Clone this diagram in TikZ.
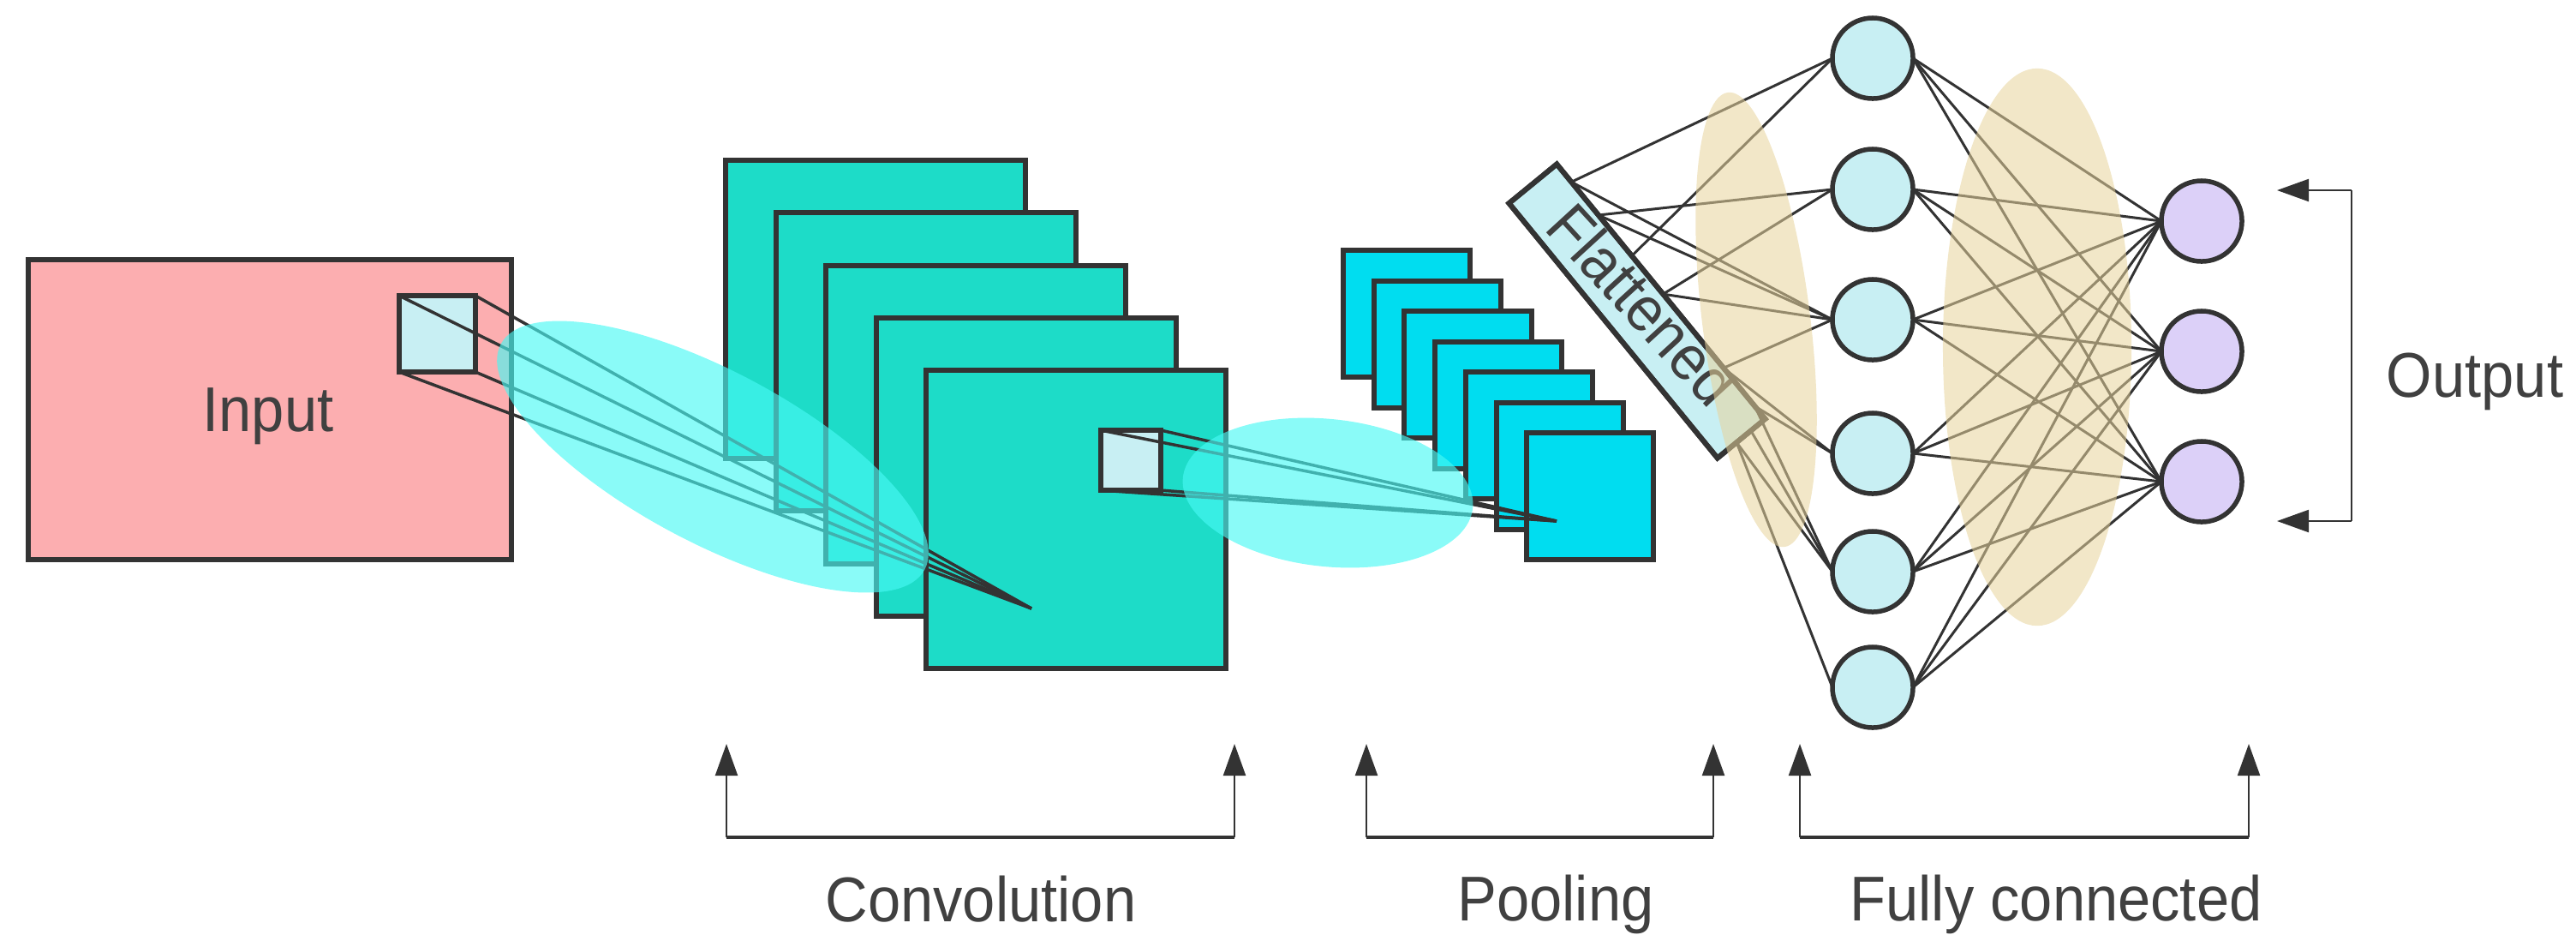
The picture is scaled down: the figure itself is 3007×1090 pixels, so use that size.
\documentclass[tikz,border=0pt]{standalone}
\usepackage{fontspec}
\newfontfamily\labfont[FakeStretch=0.93]{Liberation Sans}
\usetikzlibrary{arrows.meta,calc,shapes.geometric}
\definecolor{dk}{HTML}{333333}
\definecolor{inpink}{HTML}{FCAEB0}
\definecolor{lightcy}{HTML}{C8EFF3}
\definecolor{convc}{HTML}{1DDCC8}
\definecolor{poolc}{HTML}{00DDF0}
\definecolor{outc}{HTML}{DCD0F8}
\definecolor{glow}{RGB}{72,249,244}
\definecolor{tanc}{RGB}{231,211,155}
\definecolor{txt}{HTML}{404040}
\begin{document}
\begin{tikzpicture}[x=0.01cm,y=-0.01cm,
  box/.style={draw=dk,line width=0.06cm,inner sep=0pt,outer sep=0pt,anchor=north west},
  glowell/.style={ellipse,fill=glow,fill opacity=0.64,inner sep=0pt,draw=none},
  tanell/.style={ellipse,fill=tanc,fill opacity=0.55,inner sep=0pt,draw=none},
  neuron/.style={circle,draw=dk,line width=0.055cm,minimum size=0.94cm,inner sep=0pt,outer sep=0pt},
  kline/.style={draw=dk,line width=0.035cm},
  nline/.style={draw=dk,line width=0.03cm},
  brk/.style={draw=dk,line width=0.022cm},
  brkh/.style={draw=dk,line width=0.045cm},
  tip/.style={-{Triangle[length=0.37cm,width=0.26cm]}},
  lab/.style={font=\labfont\fontsize{21}{25}\selectfont,text=txt,inner sep=0pt}
]
\useasboundingbox (0,0) rectangle (3007,1090);

% input
\node[box,fill=inpink,minimum width=5.64cm,minimum height=3.5cm] (inp) at (33,303) {};
\node[box,fill=lightcy,minimum width=0.89cm,minimum height=0.89cm] (ink) at (466,345) {};

% convolution stack
\foreach \i in {0,...,4}
  \node[box,fill=convc,minimum width=3.5cm,minimum height=3.48cm] (cv\i) at ({847+58.5*\i},{187+61.25*\i}) {};
\node[box,fill=lightcy,minimum width=0.7cm,minimum height=0.7cm] (cvk) at (1285,502) {};
\coordinate (cvp) at (1204,710);
\foreach \c in {north west,north east,south west,south east}
  \draw[kline] (ink.\c) -- (cvp);
\node[glowell,minimum width=5.6cm,minimum height=2cm,rotate=-28] (g1) at (832,533) {};

% pooling stack
\foreach \i in {0,...,6}
  \node[box,fill=poolc,minimum width=1.48cm,minimum height=1.48cm] (pl\i) at ({1568+35.7*\i},{292+35.5*\i}) {};
\coordinate (plp) at (1817,608);
\foreach \c in {north west,north east,south west,south east}
  \draw[kline] (cvk.\c) -- (plp);
\node[glowell,minimum width=3.4cm,minimum height=1.72cm,rotate=-6] (g2) at (1550,575) {};

% flattened bar
\node[draw=dk,line width=0.06cm,fill=lightcy,minimum width=3.84cm,minimum height=0.72cm,
      rotate=-50.7,inner sep=0pt,outer sep=0pt] (flat) at (1911,363) {};
\begin{scope}
  \clip (flat.north west) -- (flat.north east) -- (flat.south east) -- (flat.south west) -- cycle;
  \node[lab,rotate=-47.5] (flattxt) at (1918,355) {Flattened};
\end{scope}
\draw[dk,line width=0.06cm,line join=miter] (flat.north west) -- (flat.north east) -- (flat.south east) -- (flat.south west) -- cycle;

% neurons
\foreach \y [count=\i] in {68,221,373,529,667,802}
  \node[neuron,fill=lightcy] (h\i) at (2186,\y) {};
\foreach \y [count=\i] in {258,410,562}
  \node[neuron,fill=outc] (o\i) at (2570,\y) {};

% source points on the flattened bar
\coordinate (s1) at ($(flat.north west)!0.07!(flat.north east)$);
\coordinate (s2) at ($(flat.north west)!0.2!(flat.north east)$);
\coordinate (s3) at ($(flat.north west)!0.36!(flat.north east)$);
\coordinate (s4) at ($(flat.north west)!0.51!(flat.north east)$);
\coordinate (s5) at ($(flat.north west)!0.8!(flat.north east)$);
\coordinate (s6) at ($(flat.north west)!0.95!(flat.north east)$);
\coordinate (s7) at ($(flat.north east)!0.3!(flat.south east)$);
\coordinate (s8) at ($(flat.north east)!0.6!(flat.south east)$);

\foreach \s/\h in {s1/h1,s1/h3,s2/h2,s2/h3,s3/h1,s4/h2,s4/h3,s5/h3,s5/h4,s6/h4,s6/h5,s7/h5,s8/h5,s8/h6}
  \draw[nline] (\s) -- (\h.west);
\foreach \i in {1,...,6}
  \foreach \j in {1,2,3}
    \draw[nline] (h\i.east) -- (o\j.west);

% tan overlays
\node[tanell,minimum width=1.26cm,minimum height=5.34cm,rotate=7.1] (t1) at (2050,373) {};
\node[tanell,minimum width=2.2cm,minimum height=6.5cm] (t2) at (2378,405) {};

% bottom brackets
\foreach \n/\l/\r in {cv/848/1441,pq/1595/2000,fc/2101/2625}{
  \coordinate (\n bl) at (\l,977);
  \coordinate (\n br) at (\r,977);
  \coordinate (\n tl) at (\l,868);
  \coordinate (\n tr) at (\r,868);
  \draw[brk,tip] (\n bl) -- (\n tl);
  \draw[brk,tip] (\n br) -- (\n tr);
  \draw[brkh] (\n bl) -- (\n br);
}

% output bracket
\coordinate (obt) at (2745,222);
\coordinate (obb) at (2745,608);
\coordinate (otp1) at (2658,222);
\coordinate (otp2) at (2658,608);
\draw[brk] (obt) -- (obb);
\draw[brk,tip] (obt) -- (otp1);
\draw[brk,tip] (obb) -- (otp2);

% labels
\node[lab,anchor=base] (tin) at (313,503) {Input};
\node[lab,anchor=base] (tconv) at (1145,1075) {Convolution};
\node[lab,anchor=base] (tpool) at (1816,1074) {Pooling};
\node[lab,anchor=base] (tfc) at (2400,1074) {Fully connected};
\node[lab,anchor=base] (tout) at (2889,463) {Output};
\end{tikzpicture}
\end{document}
